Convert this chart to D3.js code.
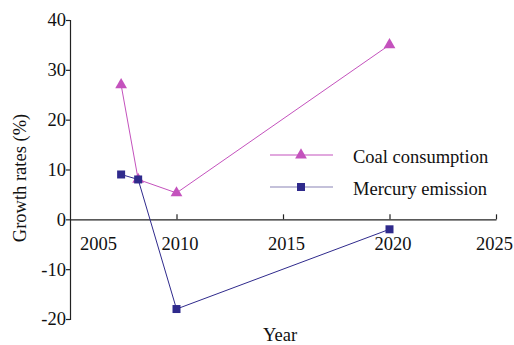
<!DOCTYPE html>
<html>
<head>
<meta charset="utf-8">
<script src="https://cdn.jsdelivr.net/npm/d3@7"></script>
<style>
  body { margin: 0; background: #fff; }
  svg text { font-family: "Liberation Serif", "Times New Roman", serif !important; fill: #111; }
</style>
</head>
<body>
<svg id="chart" width="514" height="345"></svg>
<script>
// Years sampled for each series
const years = [2007.4, 2008.2, 2010, 2020];
// Growth rates (%)
const coalConsumption = [27, 8, 5.3, 35];
const mercuryEmission = [9, 8, -18, -2];
// Axis ticks
const xTicks = [2005, 2010, 2015, 2020, 2025];
const yTicks = [-20, -10, 0, 10, 20, 30, 40];

const coalColor = "#c452bd";
const mercuryColor = "#2f2a8c";
const serif = "'Liberation Serif', 'Times New Roman', serif";
const fs = 18.5;

const svg = d3.select("#chart");
const x = d3.scaleLinear().domain([2005, 2025]).range([70, 496]);
const y = d3.scaleLinear().domain([-20, 40]).range([319, 20]);

// Y axis (ticks outward, left)
const yAxis = svg.append("g").attr("transform", `translate(${x(2005)},0)`)
  .call(d3.axisLeft(y).tickValues(yTicks).tickSize(4).tickPadding(0).tickFormat(d => String(d)));
yAxis.attr("font-family", serif);
yAxis.select(".domain").attr("stroke", "#222").attr("stroke-width", 1.2);
yAxis.selectAll(".tick line").attr("stroke", "#222").attr("stroke-width", 1.2);
yAxis.selectAll(".tick text").attr("font-size", fs).style("font-family", serif).attr("fill", "#111");

// X axis along zero line (ticks point upward)
const xAxis = svg.append("g").attr("transform", `translate(0,${y(0)})`)
  .call(d3.axisBottom(x).tickValues(xTicks).tickSizeInner(-5).tickSizeOuter(0).tickPadding(0).tickFormat(d => String(d)));
xAxis.attr("font-family", serif);
xAxis.select(".domain").attr("stroke", "#222").attr("stroke-width", 1.2);
xAxis.selectAll(".tick line").attr("stroke", "#222").attr("stroke-width", 1.2)
  .attr("display", d => d === 2005 ? "none" : null);
xAxis.selectAll(".tick text")
  .attr("font-size", fs).style("font-family", serif).attr("fill", "#111")
  .attr("y", 24).attr("dy", "0.35em")
  .attr("dx", d => d === 2005 ? 28 : d === 2025 ? -2 : 3);

// Axis titles
svg.append("text").attr("transform", `translate(26,178) rotate(-90)`)
  .attr("text-anchor", "middle").attr("font-size", fs).style("font-family", serif).text("Growth rates (%)");
svg.append("text").attr("x", 280).attr("y", 341).attr("text-anchor", "middle")
  .attr("font-size", fs).style("font-family", serif).text("Year");

const line = d3.line().x(d => x(d[0])).y(d => y(d[1]));
const coalPts = years.map((yr, i) => [yr, coalConsumption[i]]);
const mercPts = years.map((yr, i) => [yr, mercuryEmission[i]]);

svg.append("path").attr("d", line(coalPts)).attr("fill", "none")
  .attr("stroke", coalColor).attr("stroke-width", 1);
svg.append("path").attr("d", line(mercPts)).attr("fill", "none")
  .attr("stroke", mercuryColor).attr("stroke-width", 1);

const tri = d3.symbol().type(d3.symbolTriangle).size(60);
const sq = d3.symbol().type(d3.symbolSquare).size(64);

svg.selectAll(".coal").data(coalPts).enter().append("path")
  .attr("d", tri).attr("fill", coalColor)
  .attr("transform", d => `translate(${x(d[0])},${y(d[1])})`);
svg.selectAll(".merc").data(mercPts).enter().append("path")
  .attr("d", sq).attr("fill", mercuryColor)
  .attr("transform", d => `translate(${x(d[0])},${y(d[1])})`);

// Legend
const legend = [
  { label: "Coal consumption", color: coalColor, lineColor: coalColor, sym: tri, y: 155 },
  { label: "Mercury emission", color: mercuryColor, lineColor: "#8a84b6", sym: sq, y: 187 }
];
const lg = svg.append("g");
legend.forEach(it => {
  lg.append("line").attr("x1", 270).attr("x2", 333).attr("y1", it.y).attr("y2", it.y)
    .attr("stroke", it.lineColor).attr("stroke-width", 1.2);
  lg.append("path").attr("d", it.sym).attr("fill", it.color)
    .attr("transform", `translate(301,${it.y})`);
  lg.append("text").attr("x", 353).attr("y", it.y + 2).attr("dy", "0.35em")
    .attr("font-size", fs).style("font-family", serif).text(it.label);
});
</script>
</body>
</html>
